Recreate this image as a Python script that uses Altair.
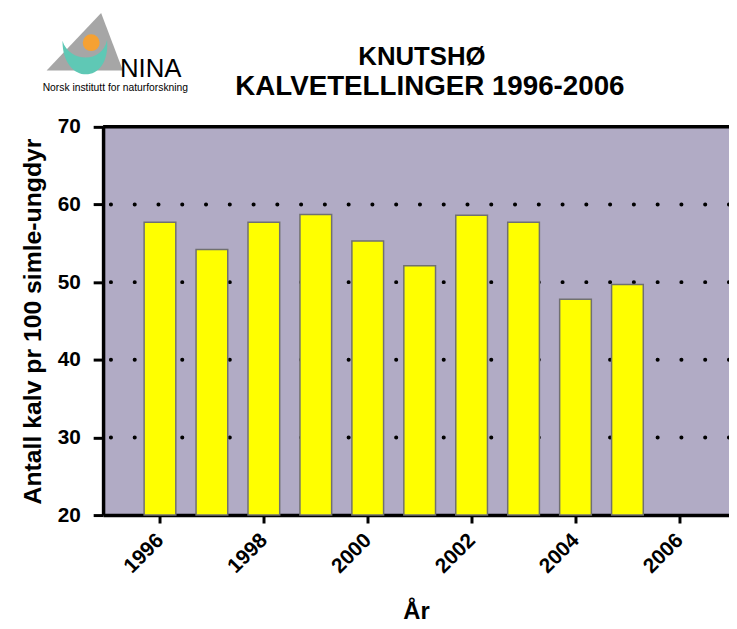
import altair as alt
import pandas as pd

years = [1996, 1997, 1998, 1999, 2000, 2001, 2002, 2003, 2004, 2005]
calves = [57.7, 54.2, 57.7, 58.7, 55.3, 52.1, 58.6, 57.7, 47.8, 49.7]
grid_values = [30, 40, 50, 60]
x_ticks = [1996, 1998, 2000, 2002, 2004, 2006]
y_ticks = [20, 30, 40, 50, 60, 70]
title_lines = ["KNUTSHØ", "KALVETELLINGER 1996-2006"]
logo_name = "NINA"
logo_sub = "Norsk institutt for naturforskning"

FONT = "Liberation Sans, Arial, Helvetica, sans-serif"
W, H = 632, 392

df = pd.DataFrame({"year": years, "value": calves})
grid_df = pd.DataFrame({"g": grid_values})
one = alt.Data(values=[{}])

xscale = alt.Scale(domain=[1995, 2006.86], nice=False, zero=False)
yscale = alt.Scale(domain=[20, 70], nice=False, zero=False)

grid = alt.Chart(grid_df).mark_rule(
    color="black", strokeWidth=4, strokeCap="round", strokeDash=[0.1, 23.9]
).encode(y=alt.Y("g:Q", scale=yscale))

bars = alt.Chart(df).mark_bar(
    width=32, color="#ffff00", stroke="#707070", strokeWidth=1.5
).encode(
    x=alt.X("year:Q", scale=xscale,
            axis=alt.Axis(values=x_ticks, format="d", title="År", labelAngle=-45,
                          labelAlign="right", labelBaseline="middle",
                          labelPadding=14, tickSize=8,
                          titleFontSize=24, titleY=85, titleBaseline="top")),
    y=alt.Y("value:Q", scale=yscale,
            axis=alt.Axis(values=y_ticks, title="Antall kalv pr 100 simle-ungdyr",
                          tickSize=10, labelPadding=13,
                          titleFontSize=25, titlePadding=12)),
    y2=alt.Y2(datum=20),
)

top_border = alt.Chart(one).mark_rule(color="black", strokeWidth=3.5).encode(
    y=alt.Y(datum=70, scale=yscale)
)

def txt(text, x, y, size, weight="bold", align="center", font=FONT, color="black"):
    return alt.Chart(one).mark_text(
        text=text, fontSize=size, fontWeight=weight, align=align, baseline="alphabetic",
        font=font, color=color
    ).encode(x=alt.value(x), y=alt.value(y))

title1 = txt(title_lines[0], 322, -62, 26)
title2 = txt(title_lines[1], 330, -32, 28)

triangle = alt.Chart(one).mark_point(
    shape="M0.429,-0.753L1,0.753L-1,0.753Z", filled=True, color="#a6a6a6",
    opacity=1, size=5929
).encode(x=alt.value(-18.5), y=alt.value(-86))
crescent = alt.Chart(one).mark_point(
    shape="M-0.958,-0.667C-0.958,1.229,1.083,1.229,0.917,-0.708C0.75,0.283,-0.667,0.283,-0.958,-0.667Z",
    filled=True, color="#5fc8b5", opacity=1, size=2304
).encode(x=alt.value(-18), y=alt.value(-71))
sun = alt.Chart(one).mark_point(
    shape="circle", filled=True, color="#f5a133", opacity=1, size=290
).encode(x=alt.value(-12), y=alt.value(-85))
nina = txt(logo_name, 17, -50, 26, weight="normal", align="left")
nina_sub = txt(logo_sub, -61, -36, 10.4, weight="normal", align="left")

chart = alt.layer(
    grid, bars, top_border, title1, title2, triangle, crescent, sun, nina, nina_sub
).properties(
    width=W, height=H,
    autosize=alt.AutoSizeParams(type="none"),
    padding={"left": 96, "top": 117, "right": 0, "bottom": 110},
).configure_view(
    fill="#b1abc5", stroke="transparent"
).configure_axis(
    domainColor="black", domainWidth=3.5, tickColor="black", tickWidth=3,
    grid=False, labelFont=FONT, titleFont=FONT,
    labelFontSize=21, labelFontWeight="bold", titleFontWeight="bold",
    labelColor="black", titleColor="black",
)

chart.save("out.html", embed_options={"renderer": "svg", "actions": False})
